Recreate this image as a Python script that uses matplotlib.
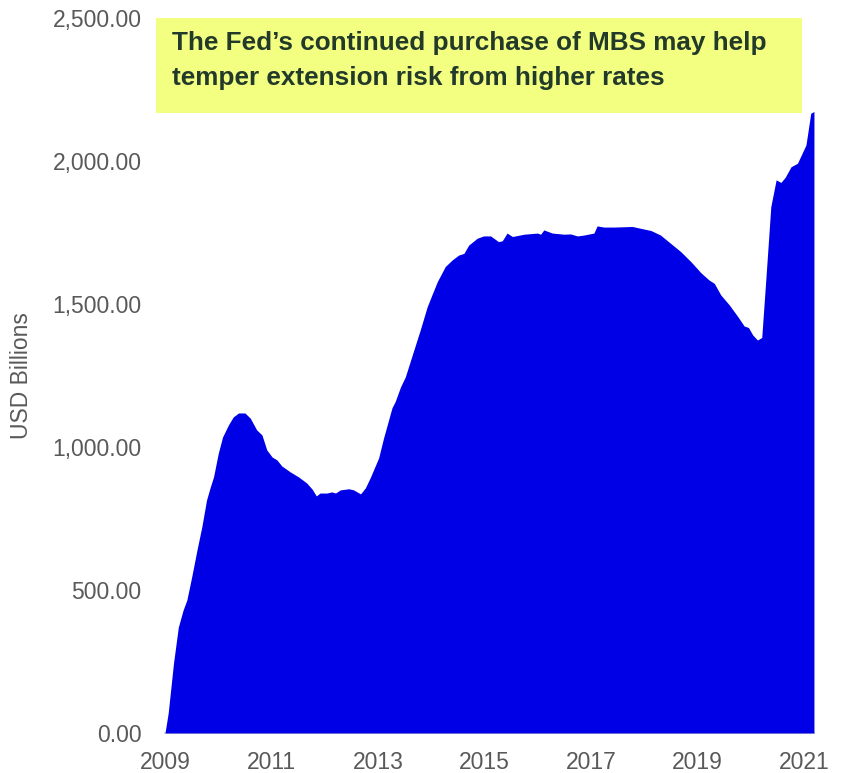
import matplotlib
matplotlib.use("Agg")
import matplotlib.pyplot as plt
import matplotlib.patches as mpatches
from matplotlib.ticker import FuncFormatter

# Fed MBS holdings (USD billions), dates as decimal years
dates = [
    2009.00, 2009.06, 2009.16, 2009.25, 2009.34, 2009.41, 2009.50, 2009.60,
    2009.69, 2009.78, 2009.85, 2009.91, 2010.00, 2010.08, 2010.19, 2010.28,
    2010.38, 2010.50, 2010.60, 2010.72, 2010.82, 2010.91, 2011.01, 2011.10,
    2011.19, 2011.35, 2011.51, 2011.66, 2011.76, 2011.84, 2011.91, 2012.04,
    2012.13, 2012.20, 2012.29, 2012.45, 2012.54, 2012.67, 2012.76, 2012.85,
    2013.01, 2013.10, 2013.26, 2013.32, 2013.42, 2013.51, 2013.67, 2013.79,
    2013.92, 2014.01, 2014.11, 2014.26, 2014.39, 2014.51, 2014.61, 2014.70,
    2014.86, 2014.98, 2015.11, 2015.26, 2015.33, 2015.42, 2015.52, 2015.74,
    2015.99, 2016.05, 2016.11, 2016.27, 2016.49, 2016.61, 2016.74, 2016.86,
    2017.05, 2017.11, 2017.24, 2017.43, 2017.77, 2018.12, 2018.30, 2018.49,
    2018.68, 2018.87, 2019.06, 2019.21, 2019.31, 2019.43, 2019.59, 2019.75,
    2019.87, 2019.95, 2020.03, 2020.12, 2020.20, 2020.28, 2020.37, 2020.47,
    2020.56, 2020.64, 2020.75, 2020.87, 2021.03, 2021.12, 2021.18,
]
holdings = [
    0, 70, 245, 370, 430, 465, 545, 640,
    720, 815, 860, 895, 978, 1035, 1077, 1105,
    1119, 1119, 1101, 1060, 1042, 990, 965, 955,
    934, 913, 895, 874, 853, 829, 839, 839,
    843, 839, 850, 854, 850, 836, 857, 892,
    962, 1030, 1137, 1159, 1210, 1245, 1339, 1409,
    1490, 1532, 1578, 1631, 1654, 1671, 1677, 1706,
    1730, 1738, 1738, 1718, 1721, 1748, 1736, 1744,
    1748, 1744, 1759, 1748, 1744, 1745, 1738, 1741,
    1748, 1773, 1769, 1769, 1771, 1757, 1741, 1712,
    1683, 1648, 1609, 1584, 1572, 1532, 1497, 1456,
    1423, 1418, 1392, 1374, 1383, 1595, 1840, 1934,
    1925, 1943, 1980, 1992, 2056, 2167, 2173,
]

year_ticks = [2009, 2011, 2013, 2015, 2017, 2019, 2021]
value_ticks = [0, 500, 1000, 1500, 2000, 2500]

headline_lines = ["The Fed\u2019s continued purchase of MBS may help",
                  "temper extension risk from higher rates"]
y_title = "USD Billions"

FILL = "#0000e6"
TICK_GREY = "#595959"
FONT = "Liberation Sans"

W, H = 846, 773
fig = plt.figure(figsize=(W / 100, H / 100), dpi=100)
ax = fig.add_axes([165 / W, 40 / H, 649 / W, 715 / H])

ax.fill_between(dates, holdings, 0, color=FILL, linewidth=0)

ax.set_xlim(2009.0, 2009.0 + 649 / 53.28)
ax.set_ylim(0, 2500)
ax.set_xticks(year_ticks)
ax.set_xticklabels([str(y) for y in year_ticks])
ax.set_yticks(value_ticks)
ax.yaxis.set_major_formatter(FuncFormatter(lambda v, _: f"{v:,.2f}"))

for s in ("top", "right", "left"):
    ax.spines[s].set_visible(False)
ax.spines["bottom"].set_color("#d9d9d9")
ax.spines["bottom"].set_linewidth(1.5)
ax.spines["bottom"].set_zorder(0)

ax.tick_params(axis="both", length=0, labelsize=16.5, labelcolor=TICK_GREY)
ax.tick_params(axis="x", pad=13)
ax.tick_params(axis="y", pad=17)
for lbl in ax.get_xticklabels() + ax.get_yticklabels():
    lbl.set_fontfamily(FONT)

ax.set_ylabel(y_title, fontsize=16.5, color=TICK_GREY, fontfamily=FONT,
              labelpad=14)

# Callout box across the top of the plot
box = mpatches.Rectangle((156 / W, 1 - 113 / H), 646 / W, 95 / H,
                         transform=fig.transFigure, facecolor="#f2ff80",
                         edgecolor="none", zorder=5)
fig.add_artist(box)
for line, base_px in zip(headline_lines, (50, 85)):
    fig.text(172 / W, 1 - base_px / H, line, transform=fig.transFigure,
             ha="left", va="baseline", fontsize=18.8, fontweight="bold",
             color="#233a2b", family=FONT, zorder=6)

fig.savefig("out.png", dpi=100)
